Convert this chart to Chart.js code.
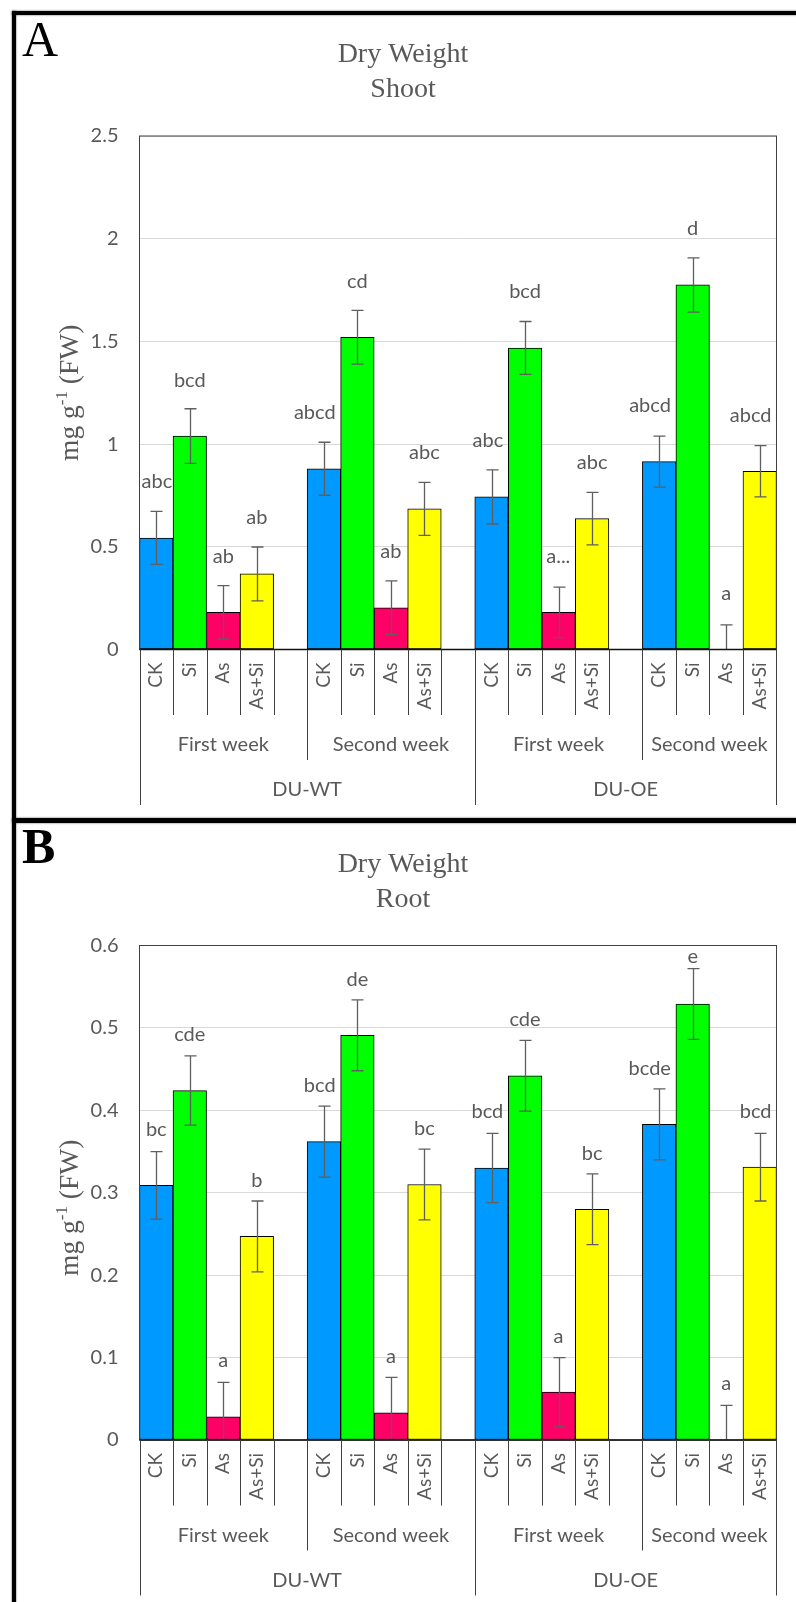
<!DOCTYPE html>
<html>
<head>
<meta charset="utf-8">
<script src="https://cdn.jsdelivr.net/npm/chart.js@4.4.1/dist/chart.umd.min.js"></script>
<style>
  html, body { margin: 0; padding: 0; background: #fff; }
  #page { position: relative; width: 796px; height: 1602px; overflow: hidden; background: #fff; }
  canvas { position: absolute; left: 0; }
  #shoot { top: 0; }
  #root { top: 818px; }
  .rule { position: absolute; background: #000; box-shadow: 0 0 2px rgba(0,0,0,0.75); }
</style>
</head>
<body>
<div id="page">
  <canvas id="shoot" width="796" height="818"></canvas>
  <canvas id="root" width="796" height="784"></canvas>
  <div class="rule" style="left:12px;top:11px;width:800px;height:4px"></div>
  <div class="rule" style="left:12px;top:11px;width:4px;height:1600px"></div>
  <div class="rule" style="left:12px;top:818px;width:800px;height:5px"></div>
</div>
<script>
// Treatments, harvest weeks and genotypes
const treatments = ['CK', 'Si', 'As', 'As+Si'];
const weeks = ['First week', 'Second week'];
const genotypes = ['DU-WT', 'DU-OE'];
const treatmentColors = ['#0099FF', '#00FF00', '#FF0066', '#FFFF00'];

// Shoot dry weight (mg g-1 FW); order: DU-WT wk1, DU-WT wk2, DU-OE wk1, DU-OE wk2
const shootMean = [0.543, 1.039, 0.181, 0.368, 0.880, 1.520, 0.203, 0.685,
                   0.743, 1.468, 0.181, 0.637, 0.915, 1.775, 0.000, 0.868];
const shootErr = [0.129, 0.133, 0.130, 0.131, 0.129, 0.131, 0.131, 0.129,
                  0.132, 0.129, 0.123, 0.128, 0.124, 0.132, 0.120, 0.125];
const shootLetters = ['abc', 'bcd', 'ab', 'ab', 'abcd', 'cd', 'ab', 'abc',
                      'abc', 'bcd', 'a...', 'abc', 'abcd', 'd', 'a', 'abcd'];
const shootTicks = [0, 0.5, 1, 1.5, 2, 2.5];

// Root dry weight (mg g-1 FW); same order
const rootMean = [0.309, 0.424, 0.028, 0.247, 0.362, 0.491, 0.033, 0.310,
                  0.330, 0.442, 0.058, 0.280, 0.383, 0.529, 0.000, 0.331];
const rootErr = [0.041, 0.042, 0.042, 0.043, 0.043, 0.043, 0.043, 0.043,
                 0.042, 0.043, 0.042, 0.043, 0.043, 0.043, 0.042, 0.041];
const rootLetters = ['bc', 'cde', 'a', 'b', 'bcd', 'de', 'a', 'bc',
                     'bcd', 'cde', 'a', 'bc', 'bcde', 'e', 'a', 'bcd'];
const rootTicks = [0, 0.1, 0.2, 0.3, 0.4, 0.5, 0.6];

const GREY = '#595959';
const LINE = '#404040';
const SANS = 'Lato, "Open Sans", sans-serif';
const SERIF = '"Liberation Serif", "DejaVu Serif", serif';

// Lay the 16 bars out on a category axis, with one empty slot between week groups
function buildSlots(mean, err, letters) {
  const s = { labels: [], values: [], errors: [], letters: [], colors: [], weekSpans: [], genoSpans: [] };
  let group = 0;
  genotypes.forEach((gName) => {
    const gFrom = s.labels.length;
    weeks.forEach((wName) => {
      const wFrom = s.labels.length;
      treatments.forEach((t, ti) => {
        const k = group * treatments.length + ti;
        s.labels.push(t);
        s.values.push(mean[k]);
        s.errors.push(err[k]);
        s.letters.push(letters[k]);
        s.colors.push(treatmentColors[ti]);
      });
      group++;
      if (group < genotypes.length * weeks.length) {
        s.labels.push('');
        s.values.push(null);
        s.errors.push(null);
        s.letters.push('');
        s.colors.push('rgba(0,0,0,0)');
      }
      s.weekSpans.push({ label: wName, from: wFrom, to: s.labels.length });
    });
    s.genoSpans.push({ label: gName, from: gFrom, to: s.labels.length });
  });
  return s;
}

const decor = {
  id: 'decor',
  beforeDatasetsDraw(chart, args, o) {
    // significance letters sit behind the bars; nudged left when the next bar is taller
    const { ctx, chartArea: a } = chart;
    const xs = chart.scales.x, ys = chart.scales.y;
    const s = o.slots;
    ctx.save();
    ctx.font = '20px ' + SANS;
    ctx.fillStyle = GREY;
    ctx.textAlign = 'center';
    ctx.textBaseline = 'middle';
    s.values.forEach((v, i) => {
      if (v === null) return;
      const w = ctx.measureText(s.letters[i]).width;
      let x = xs.getPixelForValue(i);
      const y = Math.max(ys.getPixelForValue(v) - 56, a.top + 11);
      const next = s.values[i + 1];
      if (next !== null && next !== undefined && ys.getPixelForValue(next) < y + 10) {
        const barRight = xs.getPixelForValue(i + 0.5);
        x = Math.min(x, barRight - 5 - w / 2);
      }
      x = Math.max(x, a.left + 2 + w / 2);
      x = Math.min(x, a.right - 5 - w / 2);
      ctx.fillText(s.letters[i], x, y);
    });
    ctx.restore();
  },
  afterDatasetsDraw(chart, args, o) {
    const { ctx, chartArea: a } = chart;
    const xs = chart.scales.x, ys = chart.scales.y;
    const s = o.slots;
    ctx.save();
    // plot frame
    ctx.strokeStyle = LINE;
    ctx.lineWidth = 1;
    ctx.strokeRect(a.left, a.top, a.right - a.left, a.bottom - a.top);
    // error bars
    ctx.strokeStyle = '#5f5f5f';
    ctx.lineWidth = 1.3;
    s.values.forEach((v, i) => {
      if (v === null) return;
      const x = Math.round(xs.getPixelForValue(i)) + 0.5;
      const hi = ys.getPixelForValue(v + s.errors[i]);
      const lo = Math.min(ys.getPixelForValue(v - s.errors[i]), a.bottom);
      ctx.beginPath();
      ctx.moveTo(x, hi); ctx.lineTo(x, lo);
      ctx.moveTo(x - 6, hi); ctx.lineTo(x + 6, hi);
      if (lo < a.bottom - 1) { ctx.moveTo(x - 6, lo); ctx.lineTo(x + 6, lo); }
      ctx.stroke();
    });
    // category axis line
    ctx.strokeStyle = '#111';
    ctx.lineWidth = 1.6;
    ctx.beginPath();
    ctx.moveTo(a.left, a.bottom); ctx.lineTo(a.right, a.bottom);
    ctx.stroke();
    ctx.restore();
  },
  afterDraw(chart, args, o) {
    const { ctx, chartArea: a } = chart;
    const xs = chart.scales.x;
    const s = o.slots;
    const n = s.labels.length;
    const edge = (k) => xs.getPixelForValue(k - 0.5);
    const weekEdges = s.weekSpans.map(w => w.from).filter(k => k > 0);
    const genoEdges = s.genoSpans.map(g => g.from).concat([n]);
    ctx.save();
    // multi-level category dividers
    ctx.strokeStyle = LINE;
    ctx.lineWidth = 1;
    for (let k = 0; k <= n; k++) {
      let len = 65.5;
      if (genoEdges.includes(k)) len = 155.5;
      else if (weekEdges.includes(k)) len = 110.5;
      const x = Math.round(edge(k)) + 0.5;
      ctx.beginPath();
      ctx.moveTo(x, a.bottom); ctx.lineTo(x, a.bottom + len);
      ctx.stroke();
    }
    ctx.font = '20px ' + SANS;
    ctx.fillStyle = GREY;
    ctx.textAlign = 'center';
    ctx.textBaseline = 'middle';
    s.weekSpans.forEach(w => ctx.fillText(w.label, (edge(w.from) + edge(w.to)) / 2, a.bottom + 95.5));
    s.genoSpans.forEach(g => ctx.fillText(g.label, (edge(g.from) + edge(g.to)) / 2, a.bottom + 140.5));

    // chart title
    ctx.font = '28px ' + SERIF;
    ctx.textBaseline = 'alphabetic';
    o.title.forEach((line, i) => ctx.fillText(line, 403, o.titleY + i * 35));

    // panel letter
    ctx.fillStyle = '#000';
    ctx.textAlign = 'left';
    ctx.font = o.letterWeight + ' 50px ' + SERIF;
    ctx.fillText(o.letter, 22, o.letterY);

    // value axis title with superscript
    ctx.fillStyle = GREY;
    const base = '27.5px ' + SERIF, sup = '17px ' + SERIF;
    const parts = [['mg g', base, 0], ['-1', sup, -11], [' (FW)', base, 0]];
    let total = 0;
    parts.forEach(p => { ctx.font = p[1]; total += ctx.measureText(p[0]).width; });
    ctx.translate(77.5, (a.top + a.bottom) / 2 + o.yTitleShift);
    ctx.rotate(-Math.PI / 2);
    let cx = -total / 2;
    parts.forEach(p => {
      ctx.font = p[1];
      ctx.fillText(p[0], cx, p[2]);
      cx += ctx.measureText(p[0]).width;
    });
    ctx.restore();
  }
};

function makePanel(id, slots, ticks, plotTop, zeroY, height, title, titleY, letter, letterWeight, letterY, yTitleShift) {
  return new Chart(document.getElementById(id), {
    type: 'bar',
    data: {
      labels: slots.labels,
      datasets: [{
        data: slots.values,
        backgroundColor: slots.colors,
        borderColor: '#000',
        borderWidth: 1,
        borderSkipped: false,
        categoryPercentage: 1,
        barPercentage: 1
      }]
    },
    options: {
      responsive: false,
      devicePixelRatio: 1,
      animation: false,
      events: [],
      layout: { padding: { left: 0, right: 18, top: plotTop, bottom: 0 } },
      plugins: {
        legend: { display: false },
        tooltip: { enabled: false },
        decor: { slots, title, titleY, letter, letterWeight, letterY, yTitleShift }
      },
      scales: {
        x: {
          type: 'category',
          offset: true,
          grid: { display: false, drawTicks: false },
          border: { display: false },
          ticks: {
            autoSkip: false, minRotation: 90, maxRotation: 90, padding: 13,
            color: GREY, font: { family: SANS, size: 19 }
          },
          afterFit(scale) { scale.height = height - zeroY; }
        },
        y: {
          min: ticks[0],
          max: ticks[ticks.length - 1],
          grid: { color: '#D9D9D9', lineWidth: 1, drawTicks: false },
          border: { display: false },
          ticks: {
            padding: 21, color: GREY, font: { family: SANS, size: 20 },
            callback: (value) => String(value)
          },
          afterBuildTicks(scale) { scale.ticks = ticks.map(v => ({ value: v })); },
          afterFit(scale) { scale.width = 139.5; }
        }
      }
    },
    plugins: [decor]
  });
}

makePanel('shoot', buildSlots(shootMean, shootErr, shootLetters), shootTicks,
          136, 649.5, 818, ['Dry Weight', 'Shoot'], 62, 'A', 'normal', 56, 0);
makePanel('root', buildSlots(rootMean, rootErr, rootLetters), rootTicks,
          127.5, 622, 784, ['Dry Weight', 'Root'], 53.7, 'B', 'bold', 45, 15);
</script>
</body>
</html>
